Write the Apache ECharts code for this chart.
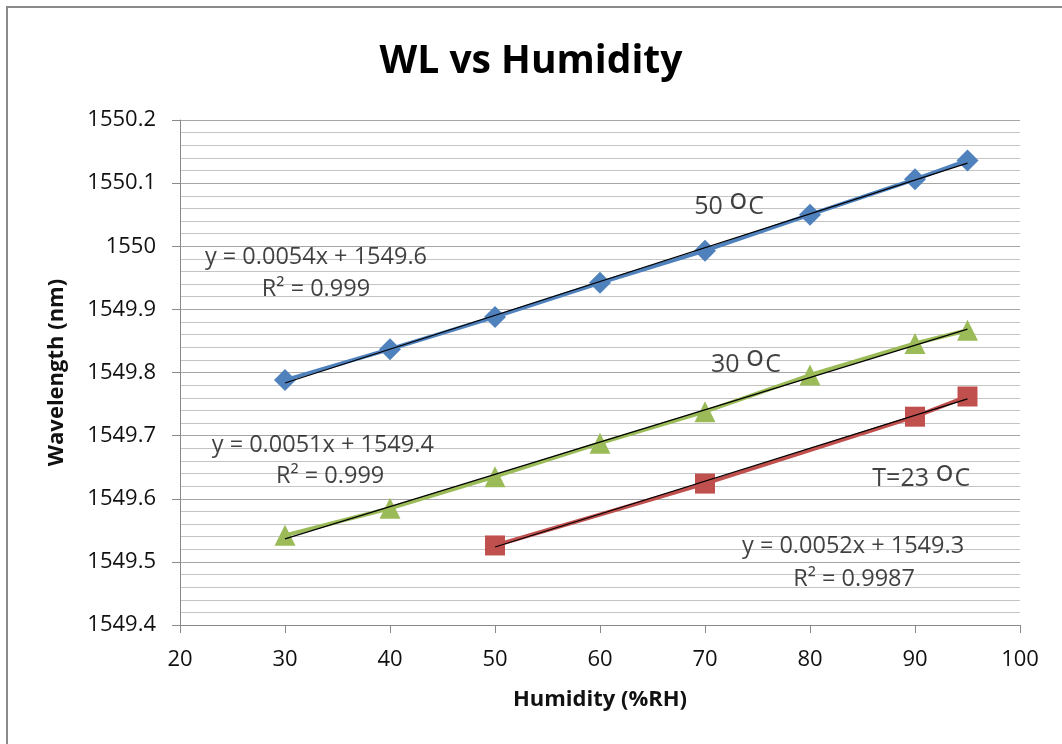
<!DOCTYPE html>
<html>
<head>
<meta charset="utf-8">
<script src="https://cdn.jsdelivr.net/npm/echarts@6/dist/echarts.min.js"></script>
<style>
html,body{margin:0;padding:0;background:#fff;}
#chart{width:1062px;height:744px;}
</style>
</head>
<body>
<div id="chart"></div>
<script>
const titleText = 'WL vs Humidity';
const xAxisName = 'Humidity (%RH)';
const yAxisName = 'Wavelength (nm)';

const humidity50 = [30, 40, 50, 60, 70, 80, 90, 95];
const wl50 = [1549.788, 1549.837, 1549.888, 1549.942, 1549.993, 1550.050, 1550.106, 1550.136];

const humidity30 = [30, 40, 50, 60, 70, 80, 90, 95];
const wl30 = [1549.542, 1549.585, 1549.635, 1549.688, 1549.738, 1549.796, 1549.846, 1549.867];

const humidity23 = [50, 70, 90, 95];
const wl23 = [1549.526, 1549.624, 1549.730, 1549.762];

// annotation texts and their anchor points (data coordinates)
const annoTexts = ['y = 0.0054x + 1549.6', 'R\u00B2 = 0.999',
                   'y = 0.0051x + 1549.4', 'R\u00B2 = 0.999',
                   'y = 0.0052x + 1549.3', 'R\u00B2 = 0.9987'];
const annoX = [32.95, 32.95, 33.6, 34.3, 84.1, 84.2];
const annoY = [1549.982, 1549.931, 1549.685, 1549.635, 1549.524, 1549.473];

const tempPrefix = ['50 ', '30 ', 'T=23 '];
const tempX = [72.3, 73.9, 90.6];
const tempY = [1550.069, 1549.820, 1549.638];

function pairs(xs, ys) { return xs.map((x, i) => [x, ys[i]]); }
function trend(xs, ys) {
  const n = xs.length;
  const mx = xs.reduce((a, b) => a + b, 0) / n;
  const my = ys.reduce((a, b) => a + b, 0) / n;
  let sxy = 0, sxx = 0;
  for (let i = 0; i < n; i++) { sxy += (xs[i] - mx) * (ys[i] - my); sxx += (xs[i] - mx) * (xs[i] - mx); }
  const b = sxy / sxx, a = my - b * mx;
  const x0 = Math.min(...xs), x1 = Math.max(...xs);
  return [[x0, a + b * x0], [x1, a + b * x1]];
}

const FONT = 'Open Sans';
const TXT = '#111';

function coloredSeries(name, xs, ys, color, symbol, size) {
  return {
    name: name, type: 'line', data: pairs(xs, ys),
    symbol: symbol, symbolSize: size,
    lineStyle: { color: color, width: 4 },
    itemStyle: { color: color },
    z: 2, animation: false
  };
}
function trendSeries(xs, ys) {
  return {
    type: 'line', data: trend(xs, ys), symbol: 'none', silent: true,
    lineStyle: { color: '#000', width: 1.2 }, z: 4, animation: false
  };
}

const chart = echarts.init(document.getElementById('chart'), null, { renderer: 'canvas' });
chart.setOption({
  backgroundColor: '#fff',
  animation: false,
  title: {
    text: titleText, left: 'center', top: 37,
    textStyle: { fontFamily: FONT, fontWeight: 'bold', fontSize: 39, color: '#000' }
  },
  graphic: [{
    type: 'rect', shape: { x: 7, y: 7, width: 1080, height: 760 },
    style: { fill: 'none', stroke: '#8a8a8a', lineWidth: 2 }, silent: true
  }],
  grid: { left: 180, right: 42, top: 120, bottom: 119, containLabel: false },
  xAxis: {
    type: 'value', min: 20, max: 100, interval: 10,
    name: xAxisName, nameLocation: 'middle', nameGap: 64,
    nameTextStyle: { fontFamily: FONT, fontWeight: 'bold', fontSize: 22, color: TXT },
    axisLine: { show: true, lineStyle: { color: '#8a8a8a', width: 1 } },
    axisTick: { show: true, length: 8, lineStyle: { color: '#8a8a8a' } },
    axisLabel: { fontFamily: FONT, fontSize: 22, color: TXT, margin: 24 },
    splitLine: { show: false }
  },
  yAxis: {
    type: 'value', min: 1549.4, max: 1550.2, interval: 0.1,
    name: yAxisName, nameLocation: 'middle', nameRotate: 90, nameGap: 112,
    nameTextStyle: { fontFamily: FONT, fontWeight: 'bold', fontSize: 22, color: TXT },
    axisLine: { show: true, lineStyle: { color: '#8a8a8a', width: 1 } },
    axisTick: { show: true, length: 8, lineStyle: { color: '#8a8a8a' } },
    minorTick: { show: false, splitNumber: 5 },
    axisLabel: {
      fontFamily: FONT, fontSize: 22, color: TXT, margin: 24,
      formatter: v => String(parseFloat(v.toFixed(1)))
    },
    splitLine: { show: true, lineStyle: { color: '#a6a6a6', width: 1 } },
    minorSplitLine: { show: true, lineStyle: { color: '#c4c4c4', width: 1 } }
  },
  series: [
    coloredSeries('23', humidity23, wl23, '#C0504D', 'rect', 20),
    coloredSeries('30', humidity30, wl30, '#9BBB59', 'triangle', 21),
    coloredSeries('50', humidity50, wl50, '#4F81BD', 'diamond', 22),
    trendSeries(humidity23, wl23),
    trendSeries(humidity30, wl30),
    trendSeries(humidity50, wl50),
    {
      type: 'scatter', symbolSize: 0, silent: true, z: 6,
      data: annoTexts.map((t, i) => ({ value: [annoX[i], annoY[i]], name: t })),
      label: {
        show: true, position: 'inside', formatter: p => p.name,
        fontFamily: FONT, fontSize: 23.5, color: TXT
      }
    },
    {
      type: 'scatter', symbolSize: 0, silent: true, z: 6,
      data: tempPrefix.map((t, i) => ({ value: [tempX[i], tempY[i]], name: t })),
      label: {
        show: true, position: 'inside',
        formatter: p => '{a|' + p.name + '}{o|o}{a|C}',
        rich: {
          a: { fontFamily: FONT, fontSize: 25, color: TXT, lineHeight: 34, verticalAlign: 'bottom' },
          o: { fontFamily: FONT, fontSize: 30, color: TXT, lineHeight: 26, verticalAlign: 'top', padding: [0, 1, 0, 0] }
        }
      }
    }
  ]
});
</script>
</body>
</html>
